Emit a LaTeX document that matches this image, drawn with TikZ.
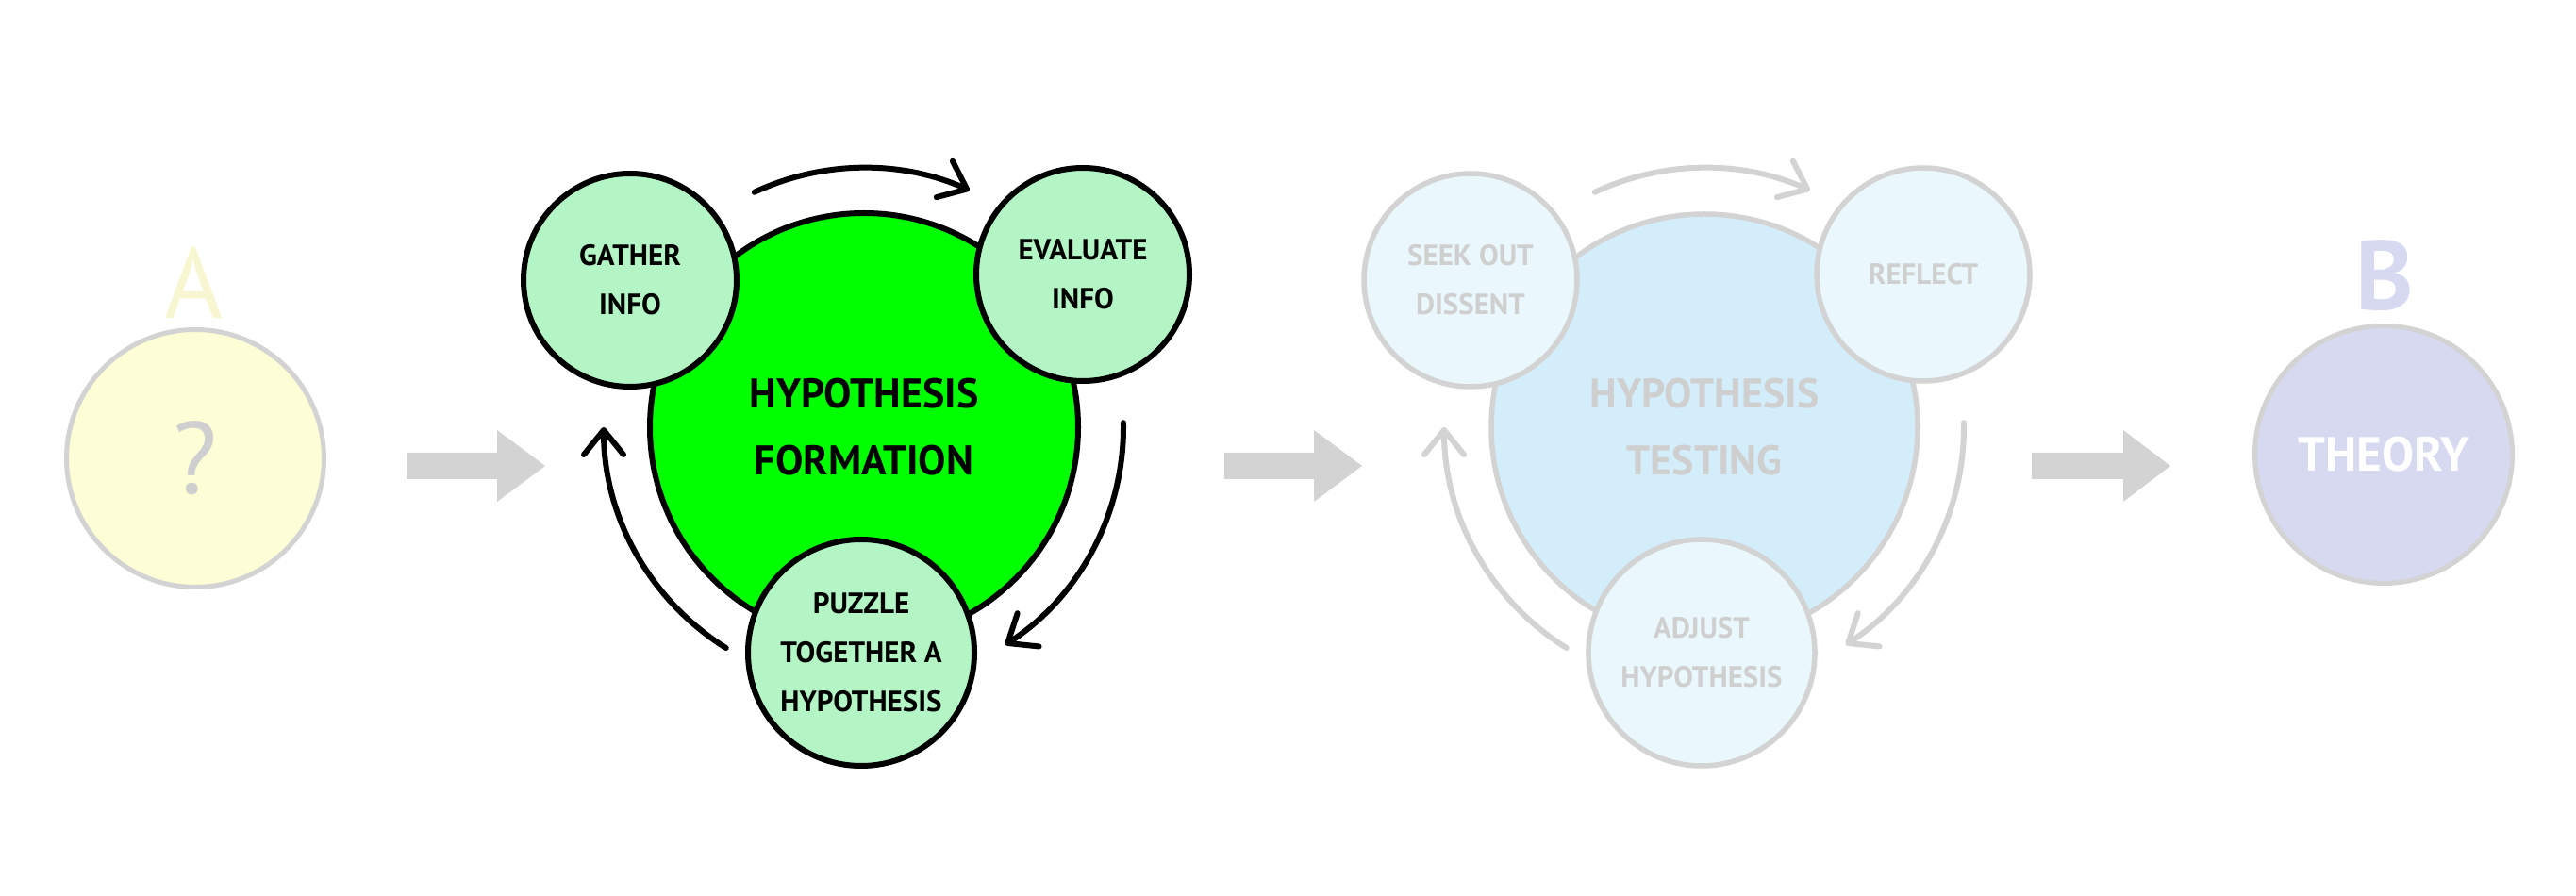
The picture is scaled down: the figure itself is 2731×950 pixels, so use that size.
\documentclass[tikz,border=0pt]{standalone}
\usepackage{fontspec}
\setmainfont{PT Sans}
\usetikzlibrary{arrows.meta}
\definecolor{grayline}{HTML}{D3D3D3}
\definecolor{graytext}{HTML}{CFCFCF}
\definecolor{limegreen}{HTML}{00FF00}
\definecolor{mint}{HTML}{B3F5C4}
\definecolor{bigblue}{HTML}{D4EDFB}
\definecolor{smallblue}{HTML}{EAF8FD}
\definecolor{paleyellow}{HTML}{FDFDD6}
\definecolor{letteryellow}{HTML}{F8F6D0}
\definecolor{lavender}{HTML}{D6D9EF}
\tikzset{
  bigtxt/.style={font=\bfseries\fontsize{44}{71}\selectfont, align=center},
  smalltxt/.style={font=\bfseries\fontsize{31}{52}\selectfont, align=center},
  ring/.style={circle, inner sep=0pt, line width=6pt},
  greenbig/.style={ring, draw=black, fill=limegreen, minimum size=454pt, bigtxt},
  greensmall/.style={ring, draw=black, fill=mint, smalltxt},
  bluebig/.style={ring, draw=grayline, fill=bigblue, minimum size=452pt, bigtxt, text=graytext, line width=5.5pt},
  bluesmall/.style={ring, draw=grayline, fill=smallblue, smalltxt, text=graytext, line width=5.5pt},
  endring/.style={ring, line width=5pt, draw=grayline, minimum size=273pt},
  cyclearrow/.style={line width=6pt, line cap=round, -{Straight Barb[length=26pt,width=42pt,line cap=round,line join=round]}},
  blockarrow/.style={fill=grayline, draw=none},
  bigletter/.style={font=\fontsize{106}{106}\selectfont}
}
\begin{document}
\begin{tikzpicture}[x=1pt,y=1pt]
\useasboundingbox (0,0) rectangle (2731,950);
% start point A
\node[bigletter, text=letteryellow] (Alabel) at (206,650) {A};
\node[endring, fill=paleyellow, font=\fontsize{108}{108}\selectfont, text=graytext] (A) at (207,464) {?};
% block arrows
\fill[blockarrow] (431,442) coordinate (ba1) -- (527,442) -- (527,418) -- (578,456) coordinate (ba1tip) -- (527,494) -- (527,470) -- (431,470) -- cycle;
\fill[blockarrow] (1298,442) coordinate (ba2) -- (1393,442) -- (1393,418) -- (1444,456) coordinate (ba2tip) -- (1393,494) -- (1393,470) -- (1298,470) -- cycle;
\fill[blockarrow] (2154,442) coordinate (ba3) -- (2251,442) -- (2251,418) -- (2301,456) coordinate (ba3tip) -- (2251,494) -- (2251,470) -- (2154,470) -- cycle;
% formation cluster
\node[greenbig] (F) at (916,497) {HYPOTHESIS\\FORMATION};
\node[greensmall, minimum size=226pt] (G) at (668,653) {GATHER\\INFO};
\node[greensmall, minimum size=226pt] (E) at (1148,659) {EVALUATE\\INFO};
\node[greensmall, minimum size=240pt] (P) at (913,258) {PUZZLE\\TOGETHER A\\HYPOTHESIS};
\draw[cyclearrow] ([shift={(115:275)}]F.center) arc[start angle=115, end angle=66, radius=275];
\draw[cyclearrow] ([shift={(1:275)}]F.center) arc[start angle=1, end angle=-57, radius=275];
\draw[cyclearrow] ([shift={(238:276)}]F.center) arc[start angle=238, end angle=180, radius=276];
% testing cluster
\node[bluebig] (T) at (1807,497) {HYPOTHESIS\\TESTING};
\node[bluesmall, minimum size=226pt] (S) at (1559,653) {SEEK OUT\\DISSENT};
\node[bluesmall, minimum size=226pt] (R) at (2039,659) {REFLECT};
\node[bluesmall, minimum size=240pt] (J) at (1804,258) {ADJUST\\HYPOTHESIS};
\draw[cyclearrow, draw=grayline] ([shift={(115:275)}]T.center) arc[start angle=115, end angle=66, radius=275];
\draw[cyclearrow, draw=grayline] ([shift={(1:275)}]T.center) arc[start angle=1, end angle=-57, radius=275];
\draw[cyclearrow, draw=grayline] ([shift={(238:276)}]T.center) arc[start angle=238, end angle=180, radius=276];
% end point B
\node[bigletter, font=\bfseries\fontsize{104}{104}\selectfont, text=lavender] (Blabel) at (2528,658) {B};
\node[endring, fill=lavender, text=white, font=\bfseries\fontsize{51}{51}\selectfont] (B) at (2527,468) {THEORY};
\end{tikzpicture}
\end{document}
